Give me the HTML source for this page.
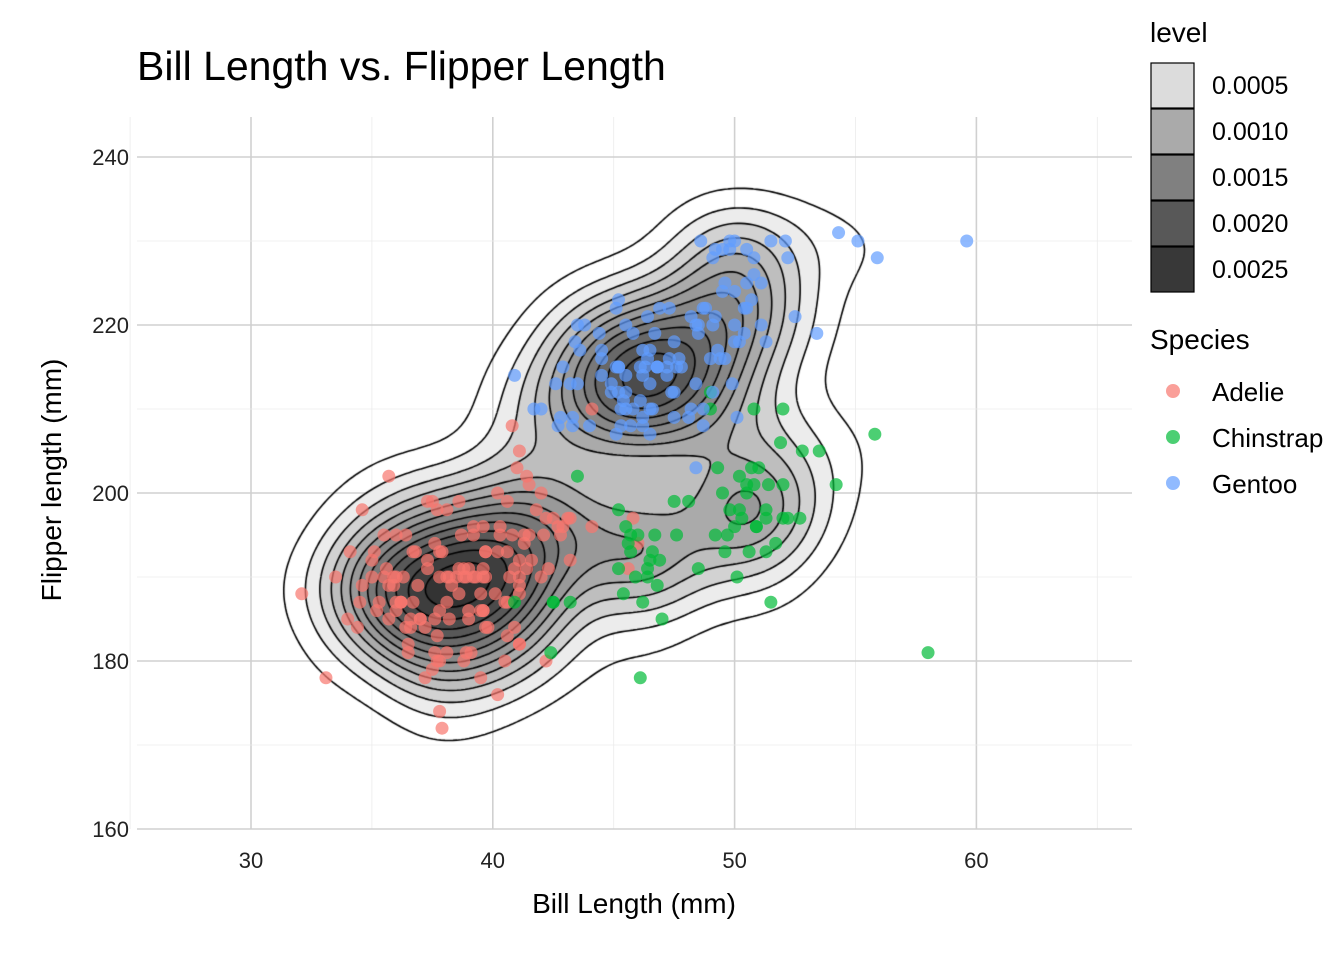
<!DOCTYPE html>
<html><head><meta charset="utf-8">
<style>
html,body{margin:0;padding:0;background:#fff;}
#wrap{position:relative;width:1344px;height:960px;overflow:hidden;font-family:"Liberation Sans","DejaVu Sans",sans-serif;}
.abs{position:absolute;left:0;top:0;}
</style></head>
<body>
<div id="wrap">
<svg id="grid" class="abs" width="1344" height="960"></svg>
<canvas id="dens" class="abs" width="1344" height="960"></canvas>
<svg id="top" class="abs" width="1344" height="960">
<text x="137" y="80" font-size="41" fill="#000">Bill Length vs. Flipper Length</text>
<text x="634" y="913" font-size="28" text-anchor="middle">Bill Length (mm)</text>
<text transform="translate(61,480) rotate(-90)" font-size="28" text-anchor="middle">Flipper length (mm)</text>
<g id="pts"></g>
<g id="ticks"></g>
<g>
<text x="1150" y="42" font-size="28">level</text>
<g id="lvkeys"></g>
</g>
<g>
<text x="1150" y="349" font-size="28">Species</text>
<g id="spkeys"></g>
</g>
</svg>
</div>
<script>
const adelie=[[39.1,181],[39.5,186],[40.3,195],[36.7,193],[39.3,190],[38.9,181],[39.2,195],[34.1,193],[42,190],[37.8,186],[37.8,180],[41.1,182],[38.6,191],[34.6,198],[36.6,185],[38.7,195],[42.5,197],[34.4,184],[46,194],[37.8,174],[37.7,180],[35.9,189],[38.2,185],[38.8,180],[35.3,187],[40.6,183],[40.5,187],[37.9,172],[40.5,180],[39.5,178],[37.2,178],[39.5,188],[40.9,184],[36.4,195],[39.2,196],[38.8,190],[42.2,180],[37.6,181],[39.8,184],[36.5,182],[40.8,195],[36,186],[44.1,196],[37,185],[39.6,190],[41.1,182],[37.5,179],[36,190],[42.3,191],[39.6,186],[40.1,188],[35,190],[42,200],[34.5,187],[41.4,191],[39,186],[40.6,193],[36.5,181],[37.6,194],[35.7,185],[41.3,195],[37.6,185],[41.1,192],[36.4,184],[41.6,192],[35.5,195],[41.1,188],[35.9,190],[41.8,198],[33.5,190],[39.7,190],[39.6,196],[45.8,197],[35.5,190],[42.8,195],[40.9,191],[37.2,184],[36.2,187],[42.1,195],[34.6,189],[42.9,196],[36.7,187],[35.1,193],[37.3,191],[41.3,194],[36.3,190],[36.9,189],[38.3,189],[38.9,190],[35.7,202],[41.1,205],[34,185],[39.6,186],[36.2,187],[40.8,208],[38.1,190],[40.3,196],[33.1,178],[43.2,192],[35,192],[41,203],[37.7,183],[37.8,190],[37.9,193],[39.7,184],[38.6,199],[38.2,190],[38.1,181],[43.2,197],[38.1,198],[45.6,191],[39.7,193],[42.2,197],[39.6,191],[42.7,196],[38.6,188],[37.3,199],[35.7,189],[41.1,189],[36.2,187],[37.7,198],[40.2,176],[41.4,202],[35.2,186],[40.6,199],[38.8,191],[41.5,195],[39,191],[44.1,210],[38.5,190],[43.1,197],[36.8,193],[37.5,199],[38.1,187],[41.1,190],[35.6,191],[40.2,200],[37,185],[39.7,193],[40.2,193],[40.6,187],[32.1,188],[40.7,190],[37.3,192],[39,185],[39.2,190],[36.6,184],[36,195],[37.8,193],[36,187],[41.5,201]];
const chinstrap=[[46.5,192],[50,196],[51.3,193],[45.4,188],[52.7,197],[45.2,198],[46.1,178],[51.3,197],[46,195],[51.3,198],[46.6,193],[51.7,194],[47,185],[52,201],[45.9,190],[50.5,201],[50.3,197],[58,181],[46.4,190],[49.2,195],[42.4,181],[48.5,191],[43.2,187],[50.6,193],[46.7,195],[52,197],[50.5,200],[49.5,200],[46.4,191],[52.8,205],[40.9,187],[54.2,201],[42.5,187],[51,203],[49.7,195],[47.5,199],[47.6,195],[52,210],[46.9,192],[53.5,205],[49,210],[46.2,187],[50.9,196],[45.5,196],[50.9,196],[50.8,201],[50.1,190],[49,212],[51.5,187],[49.8,198],[48.1,199],[51.4,201],[45.7,193],[50.7,203],[42.5,187],[52.2,197],[45.2,191],[49.3,203],[50.2,202],[45.6,194],[51.9,206],[46.8,189],[45.7,195],[55.8,207],[43.5,202],[49.6,193],[50.8,210],[50.2,198]];
const gentoo=[[46.1,211],[50,230],[48.7,210],[50,218],[47.6,215],[46.5,210],[45.4,211],[46.7,219],[43.3,209],[46.8,215],[40.9,214],[49,216],[45.5,214],[48.4,213],[45.8,210],[49.3,217],[42,210],[49.2,221],[46.2,209],[48.7,222],[50.2,218],[45.1,215],[46.5,213],[46.3,215],[42.9,215],[46.1,215],[44.5,216],[47.8,215],[48.2,210],[50,220],[47.3,222],[42.8,209],[45.1,207],[59.6,230],[49.1,220],[48.4,220],[42.6,213],[44.4,219],[44,208],[48.7,208],[42.7,208],[49.6,225],[45.3,210],[49.6,216],[50.5,222],[43.6,217],[45.5,210],[50.5,225],[44.9,213],[45.2,215],[46.6,210],[48.5,220],[45.1,222],[50.1,209],[46.5,207],[49.2,229],[43.8,220],[45.5,220],[43.2,213],[50.4,219],[45.3,208],[46.2,208],[45.7,208],[54.3,231],[45.8,219],[49.8,230],[46.2,214],[49.5,229],[43.5,220],[50.7,223],[47.7,216],[46.4,221],[48.2,221],[46.5,217],[46.4,216],[48.6,230],[47.5,209],[51.1,220],[45.2,215],[45.2,223],[49.1,212],[52.5,221],[47.4,212],[50,224],[44.9,212],[50.8,228],[43.4,218],[51.3,218],[47.5,212],[52.1,230],[47.5,218],[52.2,228],[45.5,212],[49.5,224],[44.5,214],[50.8,226],[49.4,216],[46.9,222],[48.4,203],[51.1,225],[48.5,219],[55.9,228],[47.2,215],[49.1,228],[47.3,216],[46.8,215],[41.7,210],[53.4,219],[43.3,208],[48.1,209],[50.5,229],[49.8,229],[43.5,213],[51.5,230],[46.2,217],[55.1,230],[44.5,217],[48.8,222],[47.2,214],[46.8,215],[50.4,222],[45.2,212],[49.9,213]];
const speciesNames=["Adelie","Chinstrap","Gentoo"];
const speciesColors=["#F8766D","#00BA38","#619CFF"];
const xTicks=[30,40,50,60];
const yTicks=[160,180,200,220,240];
const legendLevels=[0.0005,0.0010,0.0015,0.0020,0.0025];
const levelStep=0.0002;

const PX0=137,PX1=1132,PY0=117,PY1=829;
const xs=v=>251+(v-30)*24.18;
const ys=v=>829-(v-160)*8.4;
const NS="http://www.w3.org/2000/svg";
function mk(tag,attrs,parent){const e=document.createElementNS(NS,tag);for(const k in attrs)e.setAttribute(k,attrs[k]);parent.appendChild(e);return e;}

const grid=document.getElementById('grid');
for(let v=25;v<=65;v+=5){const major=v%10===0;const l=mk('line',{x1:xs(v),x2:xs(v),y1:PY0,y2:PY1,stroke:major?'#d0d0d0':'#ebebeb','stroke-width':major?1.6:0.8},grid);

}
for(let v=160;v<=245;v+=10){const major=v%20===0;const l=mk('line',{x1:PX0,x2:PX1,y1:ys(v),y2:ys(v),stroke:major?'#d0d0d0':'#ebebeb','stroke-width':major?1.6:0.8},grid);

}

const tk=document.getElementById('ticks');
xTicks.forEach(v=>{const t=mk('text',{x:xs(v),y:868,'font-size':22,'text-anchor':'middle',fill:'#222'},tk);t.textContent=v;

});
yTicks.forEach(v=>{const t=mk('text',{x:129,y:ys(v)+8,'font-size':22,'text-anchor':'end',fill:'#222'},tk);t.textContent=v;

});

const all=adelie.concat(chinstrap,gentoo);
function q(a,p){const s=a.slice().sort((x,y)=>x-y);const h=(s.length-1)*p;const lo=Math.floor(h);return s[lo]+(s[Math.min(lo+1,s.length-1)]-s[lo])*(h-lo);}
function bw(a){const n=a.length;const m=a.reduce((s,v)=>s+v,0)/n;const sd=Math.sqrt(a.reduce((s,v)=>s+(v-m)*(v-m),0)/(n-1));const r=(q(a,0.75)-q(a,0.25))/1.34;return 4*1.06*Math.min(sd,r)*Math.pow(n,-0.2);}
const hx=bw(all.map(d=>d[0]))/4, hy=bw(all.map(d=>d[1]))/4;
const G=4; const GW=Math.ceil((PX1-PX0)/G)+1, GH=Math.ceil((PY1-PY0)/G)+1;
const D=new Float64Array(GW*GH);
const N=all.length;
for(let j=0;j<GH;j++){const py=PY0+j*G;const yv=160+(829-py)/8.4;
 for(let i=0;i<GW;i++){const px=PX0+i*G;const xv=30+(px-251)/24.18;let s=0;
  for(let k=0;k<N;k++){const dx=(xv-all[k][0])/hx,dy=(yv-all[k][1])/hy;const e=dx*dx+dy*dy;if(e<40)s+=Math.exp(-0.5*e);}
  D[j*GW+i]=s/(N*2*Math.PI*hx*hy);}}
const grayTab=[[0,250],[0.0004,236],[0.0005,220],[0.001,170],[0.0015,128],[0.002,88],[0.0025,56],[0.003,30],[0.01,0]];
function grayFor(L){for(let i=1;i<grayTab.length;i++){if(L<=grayTab[i][0]){const a=grayTab[i-1],b=grayTab[i];return a[1]+(b[1]-a[1])*(L-a[0])/(b[0]-a[0]);}}return 0;}
const cv=document.getElementById('dens');const ctx=cv.getContext('2d');
const img=ctx.createImageData(PX1-PX0,PY1-PY0);
for(let y=0;y<PY1-PY0;y++){const gy=y/G;const j=Math.min(Math.floor(gy),GH-2);const fy=gy-j;
 for(let x=0;x<PX1-PX0;x++){const gx=x/G;const i=Math.min(Math.floor(gx),GW-2);const fx=gx-i;
  const v=D[j*GW+i]*(1-fx)*(1-fy)+D[j*GW+i+1]*fx*(1-fy)+D[(j+1)*GW+i]*(1-fx)*fy+D[(j+1)*GW+i+1]*fx*fy;
  const k=Math.floor(v/levelStep);const o=(y*(PX1-PX0)+x)*4;
  if(k>=2){const g=grayFor(k*levelStep);img.data[o]=img.data[o+1]=img.data[o+2]=g;img.data[o+3]=255;}}}
ctx.putImageData(img,PX0,PY0);
let maxD=0;for(const v of D)if(v>maxD)maxD=v;
ctx.strokeStyle='#000';ctx.lineWidth=1.6;ctx.beginPath();
for(let L=levelStep;L<maxD;L+=levelStep){
 for(let j=0;j<GH-1;j++)for(let i=0;i<GW-1;i++){
  const a=D[j*GW+i],b=D[j*GW+i+1],c=D[(j+1)*GW+i+1],d=D[(j+1)*GW+i];
  const idx=(a>=L?8:0)|(b>=L?4:0)|(c>=L?2:0)|(d>=L?1:0);if(idx===0||idx===15)continue;
  const x0=PX0+i*G,y0=PY0+j*G;
  const T=[x0+G*(L-a)/(b-a),y0], R=[x0+G,y0+G*(L-b)/(c-b)], B=[x0+G*(L-d)/(c-d),y0+G], Lf=[x0,y0+G*(L-a)/(d-a)];
  const segs={1:[[Lf,B]],2:[[B,R]],3:[[Lf,R]],4:[[T,R]],5:[[Lf,T],[B,R]],6:[[T,B]],7:[[Lf,T]],8:[[Lf,T]],9:[[T,B]],10:[[T,R],[Lf,B]],11:[[T,R]],12:[[Lf,R]],13:[[B,R]],14:[[Lf,B]]}[idx];
  segs.forEach(s=>{ctx.moveTo(s[0][0],s[0][1]);ctx.lineTo(s[1][0],s[1][1]);});
 }}
ctx.stroke();

const pts=document.getElementById('pts');
[adelie,chinstrap,gentoo].forEach((arr,si)=>{arr.forEach(d=>{const c=mk('circle',{cx:xs(d[0]),cy:ys(d[1]),r:6.5,fill:speciesColors[si],'fill-opacity':0.7},pts);

});});

const lk=document.getElementById('lvkeys');
legendLevels.forEach((L,i)=>{const y=63+i*46;const g=Math.round(grayFor(L));
const r=mk('rect',{x:1151,y:y,width:43,height:45,fill:`rgb(${g},${g},${g})`,stroke:'#000','stroke-width':1.2},lk);


const t=mk('text',{x:1212,y:y+31,'font-size':25},lk);t.textContent=L.toFixed(4);

});
const sk=document.getElementById('spkeys');
speciesNames.forEach((n,i)=>{const y=391+i*46;
const c=mk('circle',{cx:1173,cy:y,r:7,fill:speciesColors[i],'fill-opacity':0.7},sk);


const t=mk('text',{x:1212,y:y+10,'font-size':26},sk);t.textContent=n;

});
</script>
</body></html>
